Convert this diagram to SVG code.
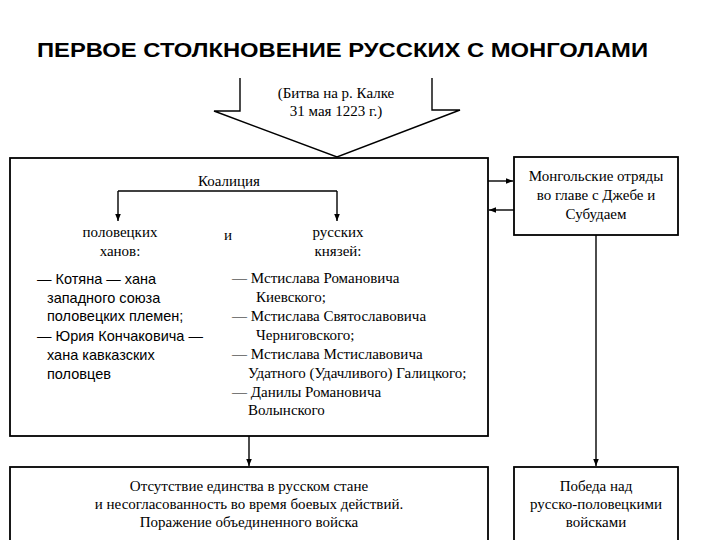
<svg xmlns="http://www.w3.org/2000/svg" width="720" height="540" viewBox="0 0 720 540">
<style>
.box{fill:#fff;stroke:#000;stroke-width:1.8}
.ln{fill:none;stroke:#000;stroke-width:1.4}
.t{font-family:"Liberation Serif","Times New Roman",serif;font-size:15px;fill:#000}
.c{text-anchor:middle}
.s{font-family:"Liberation Sans",Arial,sans-serif;font-size:14.5px;fill:#000}
.title{font-family:"Liberation Sans",Arial,sans-serif;font-weight:bold;font-size:20px;fill:#000}
</style>
<defs>
<marker id="ah" viewBox="0 0 10 10" refX="10" refY="5" markerWidth="7" markerHeight="7" markerUnits="userSpaceOnUse" orient="auto">
<path d="M0,1 L10,5 L0,9 Z" fill="#000"/>
</marker>
</defs>
<rect width="720" height="540" fill="#fff"/>
<text class="title" x="37" y="57" textLength="611" lengthAdjust="spacingAndGlyphs">ПЕРВОЕ СТОЛКНОВЕНИЕ РУССКИХ С МОНГОЛАМИ</text>

<g id="battle">
<polyline class="ln" points="240,78 240,111 214,111 337,157 460,110 432,110 432,78"/>
<text class="t c" x="336" y="98">(Битва на р. Калке</text>
<text class="t c" x="336" y="116">31 мая 1223 г.)</text>
</g>

<g id="coalition">
<rect class="box" x="10" y="158" width="478" height="278"/>
<text class="t c" x="229" y="186">Коалиция</text>
<text class="t c" x="120" y="237">половецких</text>
<text class="t c" x="120" y="256">ханов:</text>
<text class="t c" x="228" y="240">и</text>
<text class="t c" x="338" y="237">русских</text>
<text class="t c" x="338" y="256">князей:</text>
<text class="s" x="37" y="284">— Котяна — хана</text>
<text class="s" x="47" y="303">западного союза</text>
<text class="s" x="47" y="321">половецких племен;</text>
<text class="s" x="37" y="341">— Юрия Кончаковича —</text>
<text class="s" x="47" y="360">хана кавказских</text>
<text class="s" x="47" y="379">половцев</text>
<text class="t" x="232" y="283">— Мстислава Романовича</text>
<text class="t" x="256" y="302">Киевского;</text>
<text class="t" x="232" y="321">— Мстислава Святославовича</text>
<text class="t" x="256" y="340">Черниговского;</text>
<text class="t" x="232" y="359">— Мстислава Мстиславовича</text>
<text class="t" x="248" y="378">Удатного (Удачливого) Галицкого;</text>
<text class="t" x="232" y="397">— Данилы Романовича</text>
<text class="t" x="248" y="415">Волынского</text>
</g>

<g id="mongols">
<rect class="box" x="514" y="157" width="164" height="78"/>
<text class="t c" x="596" y="181">Монгольские отряды</text>
<text class="t c" x="596" y="200">во главе с Джебе и</text>
<text class="t c" x="596" y="219">Субудаем</text>
</g>

<g id="defeat">
<rect class="box" x="10" y="467" width="478" height="90"/>
<text class="t c" x="249" y="491">Отсутствие единства в русском стане</text>
<text class="t c" x="249" y="509">и несогласованность во время боевых действий.</text>
<text class="t c" x="249" y="527">Поражение объединенного войска</text>
</g>

<g id="victory">
<rect class="box" x="514" y="467" width="164" height="90"/>
<text class="t c" x="596" y="491">Победа над</text>
<text class="t c" x="596" y="509">русско-половецкими</text>
<text class="t c" x="596" y="527">войсками</text>
</g>

<g id="connectors">
<polyline class="ln" points="118,191 337,191"/>
<line class="ln" x1="118" y1="191" x2="118" y2="221" marker-end="url(#ah)"/>
<line class="ln" x1="337" y1="191" x2="337" y2="221" marker-end="url(#ah)"/>
<line class="ln" x1="488" y1="181" x2="513" y2="181" marker-end="url(#ah)"/>
<line class="ln" x1="514" y1="210" x2="489" y2="210" marker-end="url(#ah)"/>
<line class="ln" x1="596" y1="235" x2="596" y2="466" marker-end="url(#ah)"/>
<line class="ln" x1="249" y1="436" x2="249" y2="466" marker-end="url(#ah)"/>
</g>
</svg>
